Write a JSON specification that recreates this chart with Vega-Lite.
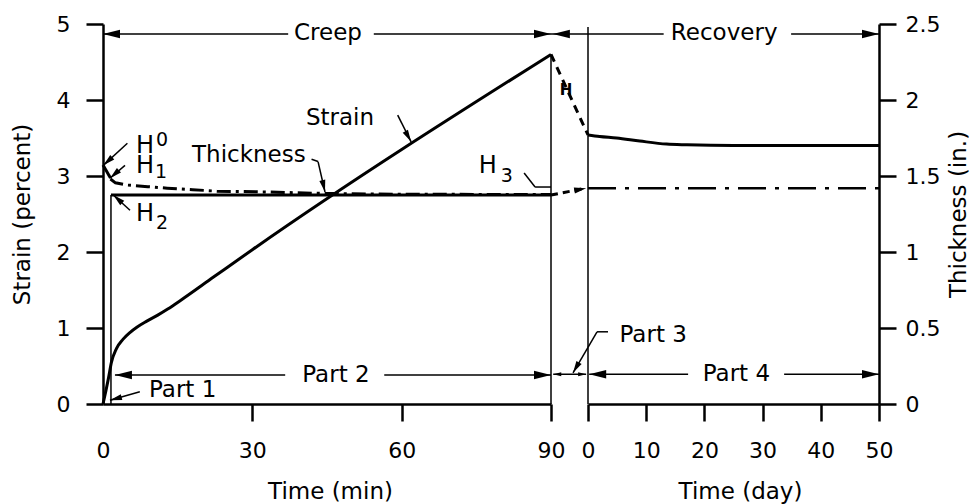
{
  "$schema": "https://vega.github.io/schema/vega-lite/v6.json",
  "width": 776,
  "height": 380,
  "autosize": {"type": "none"},
  "padding": {"left": 103, "top": 24, "right": 93, "bottom": 100},
  "background": "white",
  "config": {
    "view": {"stroke": null},
    "font": "DejaVu Sans",
    "axis": {
      "domainColor": "black", "domainWidth": 2.5, "tickColor": "black", "tickWidth": 2.5, "tickSize": 17,
      "labelFont": "DejaVu Sans", "labelFontSize": 22, "labelColor": "black",
      "titleFont": "DejaVu Sans", "titleFontSize": 23, "titleFontWeight": "normal", "titleColor": "black",
      "grid": false, "labelFlush": false, "labelOverlap": false
    },
    "text": {"font": "DejaVu Sans", "fontSize": 23, "color": "black"}
  },
  "datasets": {
    "strainCreep": [
      {"t": 0, "s": 0}, {"t": 0.6, "s": 0.18}, {"t": 1.1, "s": 0.34}, {"t": 1.7, "s": 0.55}, {"t": 2.7, "s": 0.73},
      {"t": 4, "s": 0.85}, {"t": 5.4, "s": 0.94}, {"t": 6.8, "s": 1.01}, {"t": 8.8, "s": 1.09}, {"t": 11, "s": 1.17},
      {"t": 13, "s": 1.25}, {"t": 15.5, "s": 1.36}, {"t": 22.2, "s": 1.67}, {"t": 30, "s": 2.03}, {"t": 90, "s": 4.6}
    ],
    "strainRec": [
      {"d": 0, "s": 3.54}, {"d": 2, "s": 3.52}, {"d": 4.9, "s": 3.5}, {"d": 8.9, "s": 3.46}, {"d": 13.5, "s": 3.42},
      {"d": 17, "s": 3.41}, {"d": 25, "s": 3.4}, {"d": 50, "s": 3.4}
    ],
    "strainP3": [{"p": 0, "s": 4.6}, {"p": 1, "s": 3.54}],
    "thickSolid": [
      {"g": "a", "t": 0, "h": 1.572}, {"g": "a", "t": 1.5, "h": 1.487},
      {"g": "b", "t": 1.6, "h": 1.375}, {"g": "b", "t": 90, "h": 1.375}
    ],
    "thickVert": [{"t": 1.6, "h": 0, "h2": 1.375}],
    "thickDashDot": [
      {"t": 1.5, "h": 1.48}, {"t": 2.5, "h": 1.455}, {"t": 5, "h": 1.44}, {"t": 9, "h": 1.43}, {"t": 12.9, "h": 1.42},
      {"t": 18, "h": 1.41}, {"t": 22.9, "h": 1.4}, {"t": 32.9, "h": 1.395}, {"t": 44.6, "h": 1.385}, {"t": 60, "h": 1.38},
      {"t": 90, "h": 1.378}
    ],
    "thickP3": [{"p": 0, "h": 1.375}, {"p": 0.95, "h": 1.42}],
    "thickP3Head": [{"p": 0.95, "h": 1.42, "a": -11}],
    "thickRec": [{"d": 0, "h": 1.42}, {"d": 50, "h": 1.42}],
    "vruleC": [{"t": 90, "s": 0, "s2": 4.6}],
    "vruleR": [{"d": 0, "s": 0, "s2": 4.96}],
    "annC": [
      {"t": 0, "s": 4.87, "t2": 37.2, "s2": 4.87},
      {"t": 54.4, "s": 4.87, "t2": 90, "s2": 4.87},
      {"t": 2.4, "s": 0.38, "t2": 36.6, "s2": 0.38},
      {"t": 56.5, "s": 0.38, "t2": 90, "s2": 0.38},
      {"t": 7.4, "s": 0.16, "t2": 1.4, "s2": 0.05},
      {"t": 59.2, "s": 3.8, "t2": 61.9, "s2": 3.45},
      {"t": 41.9, "s": 3.22, "t2": 43.2, "s2": 3.19},
      {"t": 43.2, "s": 3.19, "t2": 44.6, "s2": 2.79},
      {"t": 4.9, "s": 3.43, "t2": 0.07, "s2": 3.14},
      {"t": 4.42, "s": 3.14, "t2": 1.41, "s2": 2.97},
      {"t": 5.42, "s": 2.55, "t2": 2.07, "s2": 2.75},
      {"t": 84.6, "s": 3.04, "t2": 86.8, "s2": 2.855},
      {"t": 86.8, "s": 2.855, "t2": 90, "s2": 2.855}
    ],
    "annP": [
      {"p": 0, "s": 4.87, "p2": 1, "s2": 4.87},
      {"p": 0.06, "s": 0.39, "p2": 0.95, "s2": 0.39},
      {"p": 1, "s": 0.745, "p2": 0.595, "s2": 0.41}
    ],
    "annR": [
      {"d": 0, "s": 4.87, "d2": 13, "s2": 4.87},
      {"d": 34.9, "s": 4.87, "d2": 50, "s2": 4.87},
      {"d": 0.2, "s": 0.39, "d2": 17.2, "s2": 0.39},
      {"d": 33.7, "s": 0.39, "d2": 50, "s2": 0.39},
      {"d": 3.44, "s": 0.95, "d2": 1.55, "s2": 0.95},
      {"d": 1.55, "s": 0.95, "d2": 0, "s2": 0.745}
    ],
    "headsCBig": [
      {"t": 0, "s": 4.87, "a": 180}, {"t": 90, "s": 4.87, "a": 0},
      {"t": 2.4, "s": 0.38, "a": 180}, {"t": 90, "s": 0.38, "a": 0}
    ],
    "headsCSmall": [
      {"t": 1.4, "s": 0.05, "a": 165}, {"t": 61.9, "s": 3.45, "a": 61}, {"t": 44.6, "s": 2.79, "a": 77},
      {"t": 0.07, "s": 3.14, "a": 138}, {"t": 1.41, "s": 2.97, "a": 138}, {"t": 2.07, "s": 2.75, "a": 222}
    ],
    "headsPBig": [{"p": 0.05, "s": 4.87, "a": 180}],
    "headsPSmall": [{"p": 0.06, "s": 0.39, "a": 180}, {"p": 0.95, "s": 0.39, "a": 0}],
    "headsPMid": [{"p": 0.595, "s": 0.41, "a": 120}],
    "headsRBig": [{"d": 50, "s": 4.87, "a": 0}, {"d": 0.2, "s": 0.39, "a": 180}, {"d": 50, "s": 0.39, "a": 0}],
    "txtC": [
      {"t": 45.2, "s": 4.88, "label": "Creep"},
      {"t": 47.6, "s": 3.76, "label": "Strain"},
      {"t": 29.3, "s": 3.28, "label": "Thickness"},
      {"t": 46.8, "s": 0.38, "label": "Part 2"},
      {"t": 16, "s": 0.18, "label": "Part 1"}
    ],
    "txtH": [
      {"t": 8.44, "s": 3.39, "label": "H"},
      {"t": 8.44, "s": 3.13, "label": "H"},
      {"t": 8.44, "s": 2.5, "label": "H"},
      {"t": 77.3, "s": 3.13, "label": "H"}
    ],
    "txtCsub": [
      {"t": 11.85, "s": 3.47, "label": "0"},
      {"t": 11.65, "s": 3.05, "label": "1"},
      {"t": 11.85, "s": 2.38, "label": "2"},
      {"t": 81.1, "s": 3.0, "label": "3"}
    ],
    "txtP": [{"p": 0.405, "s": 4.13, "label": "H"}],
    "txtR": [
      {"d": 23.4, "s": 4.88, "label": "Recovery"},
      {"d": 25.5, "s": 0.39, "label": "Part 4"},
      {"d": 11.2, "s": 0.91, "label": "Part 3"}
    ]
  },
  "layer": [
    {
      "data": {"name": "strainCreep"},
      "mark": {"type": "line", "color": "black", "strokeWidth": 3, "interpolate": "monotone"},
      "encoding": {
        "x": {"field": "t", "type": "quantitative", "scale": {"domain": [0, 90], "range": [0, 448], "nice": false, "zero": false},
          "axis": {"orient": "bottom", "values": [0, 30, 60, 90], "title": "Time (min)", "labelPadding": 19, "titleX": 227, "titleY": 94, "titleBaseline": "alphabetic",
            "tickColor": {"condition": {"test": "datum.value === 0", "value": "transparent"}, "value": "black"}}},
        "y": {"field": "s", "type": "quantitative", "scale": {"domain": [0, 5], "nice": false, "zero": false},
          "axis": {"orient": "left", "values": [0, 1, 2, 3, 4, 5], "title": "Strain (percent)", "labelPadding": 16, "titleX": -81, "titleY": 190, "titleAngle": -90, "titleBaseline": "middle", "titleAlign": "center"}}
      }
    },
    {
      "data": {"name": "strainRec"},
      "mark": {"type": "line", "color": "black", "strokeWidth": 3, "interpolate": "monotone"},
      "encoding": {
        "x": {"field": "d", "type": "quantitative", "scale": {"domain": [0, 50], "range": [485, 776], "nice": false, "zero": false},
          "axis": {"orient": "bottom", "values": [0, 10, 20, 30, 40, 50], "title": "Time (day)", "labelPadding": 19, "titleX": 637, "titleY": 94, "titleBaseline": "alphabetic"}},
        "y": {"field": "s", "type": "quantitative", "scale": {"domain": [0, 5], "nice": false, "zero": false}, "axis": null}
      }
    },
    {
      "data": {"name": "thickRec"},
      "mark": {"type": "line", "color": "black", "strokeWidth": 2.5, "strokeDash": [28, 9, 4, 9]},
      "encoding": {
        "x": {"field": "d", "type": "quantitative", "scale": {"domain": [0, 50], "range": [485, 776], "nice": false, "zero": false}, "axis": null},
        "y": {"field": "h", "type": "quantitative", "scale": {"domain": [0, 2.5], "nice": false, "zero": false},
          "axis": {"orient": "right", "values": [0, 0.5, 1, 1.5, 2, 2.5], "format": "~g", "title": "Thickness (in.)", "labelPadding": 9, "titleX": 79, "titleY": 190, "titleAngle": -90, "titleBaseline": "middle", "titleAlign": "center"}}
      }
    },
    {
      "data": {"name": "strainP3"},
      "mark": {"type": "line", "color": "black", "strokeWidth": 3, "strokeDash": [8, 6]},
      "encoding": {
        "x": {"field": "p", "type": "quantitative", "scale": {"domain": [0, 1], "range": [448, 485], "nice": false, "zero": false}, "axis": null},
        "y": {"field": "s", "type": "quantitative", "scale": {"domain": [0, 5], "nice": false, "zero": false}, "axis": null}
      }
    },
    {
      "data": {"name": "thickSolid"},
      "mark": {"type": "line", "color": "black", "strokeWidth": 3},
      "encoding": {
        "x": {"field": "t", "type": "quantitative", "scale": {"domain": [0, 90], "range": [0, 448], "nice": false, "zero": false}, "axis": null},
        "y": {"field": "h", "type": "quantitative", "scale": {"domain": [0, 2.5], "nice": false, "zero": false}, "axis": null},
        "detail": {"field": "g"}
      }
    },
    {
      "data": {"name": "thickVert"},
      "mark": {"type": "rule", "color": "black", "strokeWidth": 1.5},
      "encoding": {
        "x": {"field": "t", "type": "quantitative", "scale": {"domain": [0, 90], "range": [0, 448], "nice": false, "zero": false}, "axis": null},
        "y": {"field": "h", "type": "quantitative", "scale": {"domain": [0, 2.5], "nice": false, "zero": false}, "axis": null},
        "y2": {"field": "h2"}
      }
    },
    {
      "data": {"name": "thickDashDot"},
      "mark": {"type": "line", "color": "black", "strokeWidth": 3, "strokeDash": [14, 5, 3, 5]},
      "encoding": {
        "x": {"field": "t", "type": "quantitative", "scale": {"domain": [0, 90], "range": [0, 448], "nice": false, "zero": false}, "axis": null},
        "y": {"field": "h", "type": "quantitative", "scale": {"domain": [0, 2.5], "nice": false, "zero": false}, "axis": null}
      }
    },
    {
      "data": {"name": "thickP3"},
      "mark": {"type": "line", "color": "black", "strokeWidth": 3, "strokeDash": [7, 5]},
      "encoding": {
        "x": {"field": "p", "type": "quantitative", "scale": {"domain": [0, 1], "range": [448, 485], "nice": false, "zero": false}, "axis": null},
        "y": {"field": "h", "type": "quantitative", "scale": {"domain": [0, 2.5], "nice": false, "zero": false}, "axis": null}
      }
    },
    {
      "data": {"name": "thickP3Head"},
      "mark": {"type": "point", "shape": "M0,0L-2,-0.5L-2,0.5Z", "filled": true, "color": "black", "opacity": 1, "size": 144},
      "encoding": {
        "x": {"field": "p", "type": "quantitative", "scale": {"domain": [0, 1], "range": [448, 485], "nice": false, "zero": false}, "axis": null},
        "y": {"field": "h", "type": "quantitative", "scale": {"domain": [0, 2.5], "nice": false, "zero": false}, "axis": null},
        "angle": {"field": "a", "type": "quantitative", "scale": null}
      }
    },
    {
      "data": {"name": "vruleC"},
      "mark": {"type": "rule", "color": "black", "strokeWidth": 1.5},
      "encoding": {
        "x": {"field": "t", "type": "quantitative", "scale": {"domain": [0, 90], "range": [0, 448], "nice": false, "zero": false}, "axis": null},
        "y": {"field": "s", "type": "quantitative", "scale": {"domain": [0, 5], "nice": false, "zero": false}, "axis": null},
        "y2": {"field": "s2"}
      }
    },
    {
      "data": {"name": "vruleR"},
      "mark": {"type": "rule", "color": "black", "strokeWidth": 1.5},
      "encoding": {
        "x": {"field": "d", "type": "quantitative", "scale": {"domain": [0, 50], "range": [485, 776], "nice": false, "zero": false}, "axis": null},
        "y": {"field": "s", "type": "quantitative", "scale": {"domain": [0, 5], "nice": false, "zero": false}, "axis": null},
        "y2": {"field": "s2"}
      }
    },
    {
      "data": {"name": "annC"},
      "mark": {"type": "rule", "color": "black", "strokeWidth": 1.5},
      "encoding": {
        "x": {"field": "t", "type": "quantitative", "scale": {"domain": [0, 90], "range": [0, 448], "nice": false, "zero": false}, "axis": null},
        "y": {"field": "s", "type": "quantitative", "scale": {"domain": [0, 5], "nice": false, "zero": false}, "axis": null},
        "x2": {"field": "t2"},
        "y2": {"field": "s2"}
      }
    },
    {
      "data": {"name": "annP"},
      "mark": {"type": "rule", "color": "black", "strokeWidth": 1.5},
      "encoding": {
        "x": {"field": "p", "type": "quantitative", "scale": {"domain": [0, 1], "range": [448, 485], "nice": false, "zero": false}, "axis": null},
        "y": {"field": "s", "type": "quantitative", "scale": {"domain": [0, 5], "nice": false, "zero": false}, "axis": null},
        "x2": {"field": "p2"},
        "y2": {"field": "s2"}
      }
    },
    {
      "data": {"name": "annR"},
      "mark": {"type": "rule", "color": "black", "strokeWidth": 1.5},
      "encoding": {
        "x": {"field": "d", "type": "quantitative", "scale": {"domain": [0, 50], "range": [485, 776], "nice": false, "zero": false}, "axis": null},
        "y": {"field": "s", "type": "quantitative", "scale": {"domain": [0, 5], "nice": false, "zero": false}, "axis": null},
        "x2": {"field": "d2"},
        "y2": {"field": "s2"}
      }
    },
    {
      "data": {"name": "headsCBig"},
      "mark": {"type": "point", "shape": "M0,0L-2,-0.5L-2,0.5Z", "filled": true, "color": "black", "opacity": 1, "size": 289},
      "encoding": {
        "x": {"field": "t", "type": "quantitative", "scale": {"domain": [0, 90], "range": [0, 448], "nice": false, "zero": false}, "axis": null},
        "y": {"field": "s", "type": "quantitative", "scale": {"domain": [0, 5], "nice": false, "zero": false}, "axis": null},
        "angle": {"field": "a", "type": "quantitative", "scale": null}
      }
    },
    {
      "data": {"name": "headsCSmall"},
      "mark": {"type": "point", "shape": "M0,0L-2,-0.5L-2,0.5Z", "filled": true, "color": "black", "opacity": 1, "size": 144},
      "encoding": {
        "x": {"field": "t", "type": "quantitative", "scale": {"domain": [0, 90], "range": [0, 448], "nice": false, "zero": false}, "axis": null},
        "y": {"field": "s", "type": "quantitative", "scale": {"domain": [0, 5], "nice": false, "zero": false}, "axis": null},
        "angle": {"field": "a", "type": "quantitative", "scale": null}
      }
    },
    {
      "data": {"name": "headsPBig"},
      "mark": {"type": "point", "shape": "M0,0L-2,-0.5L-2,0.5Z", "filled": true, "color": "black", "opacity": 1, "size": 289},
      "encoding": {
        "x": {"field": "p", "type": "quantitative", "scale": {"domain": [0, 1], "range": [448, 485], "nice": false, "zero": false}, "axis": null},
        "y": {"field": "s", "type": "quantitative", "scale": {"domain": [0, 5], "nice": false, "zero": false}, "axis": null},
        "angle": {"field": "a", "type": "quantitative", "scale": null}
      }
    },
    {
      "data": {"name": "headsPSmall"},
      "mark": {"type": "point", "shape": "M0,0L-2,-0.5L-2,0.5Z", "filled": true, "color": "black", "opacity": 1, "size": 64},
      "encoding": {
        "x": {"field": "p", "type": "quantitative", "scale": {"domain": [0, 1], "range": [448, 485], "nice": false, "zero": false}, "axis": null},
        "y": {"field": "s", "type": "quantitative", "scale": {"domain": [0, 5], "nice": false, "zero": false}, "axis": null},
        "angle": {"field": "a", "type": "quantitative", "scale": null}
      }
    },
    {
      "data": {"name": "headsPMid"},
      "mark": {"type": "point", "shape": "M0,0L-2,-0.5L-2,0.5Z", "filled": true, "color": "black", "opacity": 1, "size": 144},
      "encoding": {
        "x": {"field": "p", "type": "quantitative", "scale": {"domain": [0, 1], "range": [448, 485], "nice": false, "zero": false}, "axis": null},
        "y": {"field": "s", "type": "quantitative", "scale": {"domain": [0, 5], "nice": false, "zero": false}, "axis": null},
        "angle": {"field": "a", "type": "quantitative", "scale": null}
      }
    },
    {
      "data": {"name": "headsRBig"},
      "mark": {"type": "point", "shape": "M0,0L-2,-0.5L-2,0.5Z", "filled": true, "color": "black", "opacity": 1, "size": 289},
      "encoding": {
        "x": {"field": "d", "type": "quantitative", "scale": {"domain": [0, 50], "range": [485, 776], "nice": false, "zero": false}, "axis": null},
        "y": {"field": "s", "type": "quantitative", "scale": {"domain": [0, 5], "nice": false, "zero": false}, "axis": null},
        "angle": {"field": "a", "type": "quantitative", "scale": null}
      }
    },
    {
      "data": {"name": "txtC"},
      "mark": {"type": "text", "align": "center", "baseline": "middle", "fontSize": 23, "color": "black"},
      "encoding": {
        "x": {"field": "t", "type": "quantitative", "scale": {"domain": [0, 90], "range": [0, 448], "nice": false, "zero": false}, "axis": null},
        "y": {"field": "s", "type": "quantitative", "scale": {"domain": [0, 5], "nice": false, "zero": false}, "axis": null},
        "text": {"field": "label"}
      }
    },
    {
      "data": {"name": "txtH"},
      "mark": {"type": "text", "align": "center", "baseline": "middle", "fontSize": 24, "color": "black"},
      "encoding": {
        "x": {"field": "t", "type": "quantitative", "scale": {"domain": [0, 90], "range": [0, 448], "nice": false, "zero": false}, "axis": null},
        "y": {"field": "s", "type": "quantitative", "scale": {"domain": [0, 5], "nice": false, "zero": false}, "axis": null},
        "text": {"field": "label"}
      }
    },
    {
      "data": {"name": "txtCsub"},
      "mark": {"type": "text", "align": "center", "baseline": "middle", "fontSize": 19, "color": "black"},
      "encoding": {
        "x": {"field": "t", "type": "quantitative", "scale": {"domain": [0, 90], "range": [0, 448], "nice": false, "zero": false}, "axis": null},
        "y": {"field": "s", "type": "quantitative", "scale": {"domain": [0, 5], "nice": false, "zero": false}, "axis": null},
        "text": {"field": "label"}
      }
    },
    {
      "data": {"name": "txtP"},
      "mark": {"type": "text", "align": "center", "baseline": "middle", "fontSize": 15, "fontWeight": "bold", "color": "black"},
      "encoding": {
        "x": {"field": "p", "type": "quantitative", "scale": {"domain": [0, 1], "range": [448, 485], "nice": false, "zero": false}, "axis": null},
        "y": {"field": "s", "type": "quantitative", "scale": {"domain": [0, 5], "nice": false, "zero": false}, "axis": null},
        "text": {"field": "label"}
      }
    },
    {
      "data": {"name": "txtR"},
      "mark": {"type": "text", "align": "center", "baseline": "middle", "fontSize": 23, "color": "black"},
      "encoding": {
        "x": {"field": "d", "type": "quantitative", "scale": {"domain": [0, 50], "range": [485, 776], "nice": false, "zero": false}, "axis": null},
        "y": {"field": "s", "type": "quantitative", "scale": {"domain": [0, 5], "nice": false, "zero": false}, "axis": null},
        "text": {"field": "label"}
      }
    }
  ],
  "resolve": {"scale": {"x": "independent", "y": "independent"}}
}
